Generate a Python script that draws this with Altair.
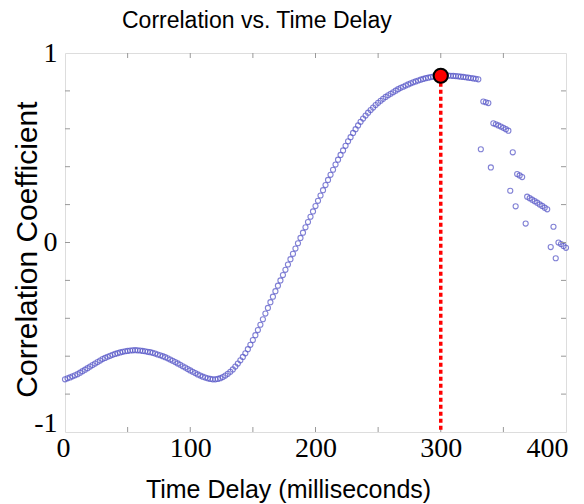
import altair as alt
import pandas as pd

# ---- data ----
delay_main = list(range(0, 331, 2))
corr_main = [
    -0.722, -0.717, -0.712, -0.706, -0.701, -0.695, -0.687, -0.679, -0.671, -0.663,
    -0.655, -0.647, -0.639, -0.631, -0.623, -0.615, -0.609, -0.603, -0.598, -0.593,
    -0.588, -0.584, -0.580, -0.577, -0.574, -0.572, -0.570, -0.569, -0.568, -0.569,
    -0.570, -0.572, -0.574, -0.577, -0.579, -0.582, -0.586, -0.591, -0.595, -0.600,
    -0.605, -0.611, -0.618, -0.624, -0.631, -0.638, -0.645, -0.653, -0.660, -0.668,
    -0.675, -0.682, -0.689, -0.696, -0.702, -0.708, -0.713, -0.717, -0.720, -0.722,
    -0.722, -0.720, -0.716, -0.710, -0.702, -0.693, -0.682, -0.670, -0.655, -0.639,
    -0.622, -0.604, -0.585, -0.563, -0.540, -0.515, -0.489, -0.462, -0.434, -0.405,
    -0.375, -0.345, -0.315, -0.286, -0.257, -0.228, -0.200, -0.172, -0.144, -0.116,
    -0.088, -0.060, -0.032, -0.004, 0.024, 0.052, 0.080, 0.108, 0.136, 0.164,
    0.192, 0.220, 0.248, 0.276, 0.303, 0.330, 0.357, 0.384, 0.411, 0.437,
    0.462, 0.486, 0.510, 0.534, 0.556, 0.578, 0.598, 0.618, 0.637, 0.654,
    0.670, 0.685, 0.699, 0.712, 0.725, 0.737, 0.748, 0.758, 0.768, 0.777,
    0.785, 0.793, 0.801, 0.809, 0.816, 0.822, 0.828, 0.834, 0.840, 0.845,
    0.850, 0.855, 0.859, 0.863, 0.867, 0.870, 0.873, 0.875, 0.877, 0.879,
    0.880, 0.881, 0.881, 0.881, 0.880, 0.879, 0.878, 0.877, 0.875, 0.874,
    0.872, 0.870, 0.868, 0.866, 0.864, 0.861,
]

delay_tail = [334, 336, 338, 332, 340, 342, 344, 346, 348, 350, 352, 354, 357.5,
              355.5, 359.8, 361, 363, 365, 367.8, 369, 371, 373, 375, 377, 379,
              381, 383, 385, 387.8, 390, 391.8, 394, 396, 398, 400]
corr_tail = [0.744, 0.740, 0.736, 0.492, 0.396, 0.629, 0.624, 0.618, 0.612, 0.605,
             0.598, 0.590, 0.476, 0.273, 0.191, 0.361, 0.354, 0.345, 0.100, 0.242,
             0.234, 0.226, 0.218, 0.210, 0.201, 0.193, 0.184, 0.175, -0.024, 0.083,
             -0.083, 0.000, -0.008, -0.018, -0.028]

peak_delay = [300]
peak_corr = [0.88]

x_tick_marks = [50, 100, 150, 200, 250, 300, 350]
y_tick_marks = [-0.8, -0.6, -0.4, -0.2, 0.0, 0.2, 0.4, 0.6, 0.8]
x_labels = [0, 100, 200, 300, 400]
y_labels = [-1, 0, 1]

W, H = 501, 379

xs = alt.Scale(domain=[0, 400], nice=False, zero=False)
ys = alt.Scale(domain=[-1, 1], nice=False, zero=False)

points_df = pd.DataFrame({
    "delay": delay_main + delay_tail,
    "corr": corr_main + corr_tail,
})
peak_df = pd.DataFrame({"delay": peak_delay, "corr": peak_corr})
xt_df = pd.DataFrame({"delay": x_tick_marks})
yt_df = pd.DataFrame({"corr": y_tick_marks})

x_axis = alt.Axis(
    values=x_labels, ticks=False, grid=False, domain=False,
    labelFont="Liberation Serif", labelFontSize=28, labelColor="black",
    labelPadding=2, labelFlush=False, labelExpr="'' + datum.value",
    labelOffset={"condition": [{"test": "datum.value == 400", "value": -19},
                               {"test": "datum.value == 0", "value": -2}],
                 "value": 0},
    title="Time Delay (milliseconds)", titleFont="Liberation Sans",
    titleFontSize=25, titleFontWeight="normal", titleColor="black",
    titleX=223, titleY=65, titleBaseline="alphabetic", titleAlign="center",
)
y_axis = alt.Axis(
    values=y_labels, ticks=False, grid=False, domain=False,
    labelFont="Liberation Serif", labelFontSize=28, labelColor="black",
    labelPadding=8, labelFlush=False, labelExpr="'' + datum.value",
    labelOffset={"condition": {"test": "datum.value == -1", "value": -9},
                 "value": 0},
    title="Correlation Coefficient", titleFont="Liberation Sans",
    titleFontSize=30, titleFontWeight="normal", titleColor="black",
    titleX=-29, titleY=196, titleBaseline="alphabetic", titleAlign="center",
)

X = alt.X("delay:Q", scale=xs, axis=x_axis)
Y = alt.Y("corr:Q", scale=ys, axis=y_axis)

pts = alt.Chart(points_df).mark_point(
    shape="circle", filled=False, size=26, strokeWidth=1.1,
    color="#5858c8", opacity=0.75,
).encode(x=X, y=Y)

vline = alt.Chart(peak_df).mark_rule(
    color="#ff0000", strokeWidth=3.5, strokeDash=[4, 3]
).encode(x=X, y=Y, y2=alt.value(H))

dot = alt.Chart(peak_df).mark_point(
    shape="circle", filled=True, size=200, fill="#ff0000",
    stroke="black", strokeWidth=2, opacity=1,
).encode(x=X, y=Y)

tick_color = "#999999"
xb = alt.Chart(xt_df).mark_rule(color=tick_color, strokeWidth=1).encode(
    x=X, y=alt.value(H), y2=alt.value(H - 5))
xtop = alt.Chart(xt_df).mark_rule(color=tick_color, strokeWidth=1).encode(
    x=X, y=alt.value(0), y2=alt.value(5))
yl = alt.Chart(yt_df).mark_rule(color=tick_color, strokeWidth=1).encode(
    y=Y, x=alt.value(0), x2=alt.value(5))
yr = alt.Chart(yt_df).mark_rule(color=tick_color, strokeWidth=1).encode(
    y=Y, x=alt.value(W), x2=alt.value(W - 5))

chart = alt.layer(pts, xb, xtop, yl, yr, vline, dot).properties(
    width=W, height=H,
    padding={"left": 65, "top": 53, "right": 18, "bottom": 72},
    autosize=alt.AutoSizeParams(type="none"),
    title=alt.TitleParams(
        "Correlation vs. Time Delay", font="Liberation Sans", fontSize=23,
        fontWeight="normal", color="black", anchor="start", frame="group",
        dx=57, dy=16, offset=4, baseline="alphabetic",
    ),
).configure_view(stroke="#9a9a9a", strokeWidth=1).configure(background="white")

chart.save("out.html", embed_options={"renderer": "svg", "actions": False})
